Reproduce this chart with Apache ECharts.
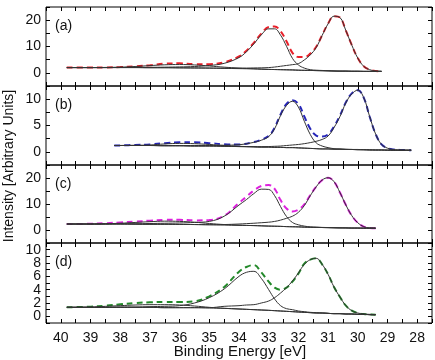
<!DOCTYPE html>
<html>
<head>
<meta charset="utf-8">
<script src="https://cdn.jsdelivr.net/npm/echarts@6/dist/echarts.min.js"></script>
<style>
  html, body { margin: 0; padding: 0; background: #fff; }
  #chart { width: 435px; height: 360px; }
</style>
</head>
<body>
<div id="chart"></div>
<script>
// binding energies (eV) and intensities, one set per panel
const E_A = [39.8, 39, 38.5, 38, 37.5, 37, 36.5, 36, 35.5, 35, 34.5, 34, 33.75, 33.5, 33.25, 33, 32.8, 32.6, 32.4, 32.2, 32, 31.8, 31.6, 31.4, 31.2, 31, 30.8, 30.6, 30.4, 30.2, 30, 29.8, 29.6, 29.4, 29.2];
const BG_A = [2.0, 2.0, 2.0, 2.0, 2.0, 1.95, 1.95, 1.9, 1.85, 1.8, 1.7, 1.6, 1.55, 1.5, 1.4, 1.3, 1.25, 1.2, 1.15, 1.1, 1.0, 0.95, 0.9, 0.85, 0.8, 0.75, 0.7, 0.65, 0.65, 0.6, 0.6, 0.55, 0.55, 0.55, 0.55];
const HUMP_A = [2.0, 2.0, 2.05, 2.15, 2.4, 2.75, 3.05, 3.15, 3.0, 2.6, 2.15, 1.8, 1.65, 1.55, 1.4, 1.3, 1.25, 1.2, 1.15, 1.1, 1.0, 0.95, 0.9, 0.85, 0.8, 0.75, 0.7, 0.65, 0.65, 0.6, 0.6, 0.55, 0.55, 0.55, 0.55];
const P1_A = [2.0, 2.0, 2.0, 2.05, 2.05, 2.1, 2.15, 2.25, 2.4, 2.8, 3.6, 5.8, 8.0, 11.0, 14.4, 16.7, 16.7, 14.3, 10.1, 5.5, 3.0, 1.8, 1.2, 1.0, 0.9, 0.8, 0.7, 0.65, 0.65, 0.6, 0.6, 0.55, 0.55, 0.55, 0.55];
const P2_A = [2.0, 2.0, 2.0, 2.0, 2.0, 1.95, 1.95, 1.9, 1.85, 1.8, 1.75, 1.75, 1.8, 1.85, 1.9, 2.0, 2.2, 2.5, 2.8, 3.1, 3.5, 4.9, 6.8, 9.6, 14.2, 18.6, 21.5, 21.0, 16.0, 10.5, 5.6, 2.5, 1.2, 0.7, 0.6];
const FIT_A = [2.0, 2.0, 2.05, 2.2, 2.5, 2.9, 3.5, 3.6, 3.3, 3.3, 4.0, 6.2, 8.4, 11.4, 14.9, 17.4, 17.6, 15.8, 12.0, 7.6, 6.0, 6.0, 7.3, 9.9, 14.3, 18.7, 21.5, 21.0, 16.0, 10.5, 5.6, 2.5, 1.2, 0.7, 0.6];

const E_B = [38.2, 37.5, 37, 36.5, 36, 35.5, 35, 34.5, 34, 33.5, 33.25, 33, 32.8, 32.6, 32.4, 32.2, 32, 31.8, 31.6, 31.4, 31.2, 31, 30.8, 30.6, 30.4, 30.2, 30, 29.8, 29.6, 29.4, 29.2, 29, 28.8, 28.5, 28.2];
const BG_B = [1.2, 1.2, 1.2, 1.15, 1.15, 1.1, 1.1, 1.05, 1.0, 0.95, 0.9, 0.9, 0.85, 0.85, 0.8, 0.8, 0.75, 0.7, 0.65, 0.6, 0.55, 0.55, 0.5, 0.5, 0.45, 0.45, 0.4, 0.4, 0.35, 0.35, 0.35, 0.3, 0.3, 0.3, 0.3];
const HUMP_B = [1.2, 1.25, 1.3, 1.5, 1.6, 1.55, 1.4, 1.2, 1.05, 0.95, 0.9, 0.9, 0.85, 0.85, 0.8, 0.8, 0.75, 0.7, 0.65, 0.6, 0.55, 0.55, 0.5, 0.5, 0.45, 0.45, 0.4, 0.4, 0.35, 0.35, 0.35, 0.3, 0.3, 0.3, 0.3];
const P1_B = [1.2, 1.2, 1.2, 1.2, 1.2, 1.2, 1.2, 1.25, 1.35, 1.8, 2.2, 2.9, 4.4, 6.9, 8.8, 9.6, 8.5, 5.8, 3.3, 1.7, 1.1, 0.8, 0.6, 0.55, 0.5, 0.45, 0.45, 0.4, 0.4, 0.35, 0.35, 0.35, 0.3, 0.3, 0.3];
const P2_B = [1.2, 1.2, 1.2, 1.15, 1.15, 1.1, 1.1, 1.05, 1.0, 0.98, 0.98, 1.0, 1.05, 1.1, 1.2, 1.3, 1.4, 1.55, 1.75, 2.0, 2.35, 3.0, 4.6, 6.7, 9.3, 11.0, 11.7, 10.3, 6.7, 3.4, 1.4, 0.7, 0.45, 0.35, 0.3];
const FIT_B = [1.2, 1.3, 1.4, 1.65, 1.8, 1.8, 1.65, 1.45, 1.4, 1.85, 2.3, 3.0, 4.6, 7.1, 9.1, 9.8, 9.1, 6.7, 4.4, 3.1, 2.9, 3.3, 4.8, 6.9, 9.4, 11.1, 11.7, 10.3, 6.7, 3.4, 1.4, 0.7, 0.45, 0.35, 0.3];

const E_C = [39.8, 39, 38.5, 38, 37.5, 37, 36.5, 36, 35.5, 35, 34.5, 34, 33.75, 33.5, 33.25, 33, 32.8, 32.6, 32.4, 32.2, 32, 31.8, 31.6, 31.4, 31.2, 31, 30.8, 30.6, 30.4, 30.2, 30, 29.8, 29.6, 29.4];
const BG_C = [2.3, 2.3, 2.3, 2.3, 2.25, 2.2, 2.2, 2.15, 2.1, 2.0, 1.9, 1.8, 1.75, 1.7, 1.6, 1.5, 1.45, 1.4, 1.3, 1.25, 1.2, 1.1, 1.05, 1.0, 0.95, 0.9, 0.85, 0.8, 0.8, 0.75, 0.75, 0.7, 0.7, 0.7];
const HUMP_C = [2.3, 2.3, 2.4, 2.6, 2.9, 3.2, 3.4, 3.3, 3.0, 2.5, 2.1, 1.85, 1.75, 1.7, 1.6, 1.5, 1.45, 1.4, 1.3, 1.25, 1.2, 1.1, 1.05, 1.0, 0.95, 0.9, 0.85, 0.8, 0.8, 0.75, 0.75, 0.7, 0.7, 0.7];
const P1_C = [2.3, 2.3, 2.35, 2.4, 2.4, 2.5, 2.6, 2.7, 2.9, 3.3, 5.3, 9.6, 11.7, 14.0, 15.7, 15.6, 13.2, 9.0, 5.2, 2.9, 2.0, 1.5, 1.2, 1.1, 1.0, 0.95, 0.9, 0.85, 0.8, 0.75, 0.75, 0.7, 0.7, 0.7];
const P2_C = [2.3, 2.3, 2.3, 2.3, 2.25, 2.2, 2.2, 2.15, 2.1, 2.05, 2.1, 2.3, 2.45, 2.6, 2.8, 3.0, 3.3, 3.8, 4.5, 5.3, 6.8, 9.4, 13.2, 16.6, 19.2, 20.1, 18.6, 14.4, 9.6, 5.5, 2.8, 1.3, 0.8, 0.7];
const FIT_C = [2.3, 2.4, 2.6, 2.9, 3.2, 3.6, 3.9, 3.9, 3.7, 3.8, 5.5, 10.4, 12.8, 15.2, 16.9, 17.3, 15.8, 11.5, 8.3, 7.1, 7.8, 9.9, 13.4, 16.7, 19.2, 20.1, 18.6, 14.4, 9.6, 5.5, 2.8, 1.3, 0.8, 0.7];

const E_D = [39.8, 39, 38.5, 38, 37.5, 37, 36.5, 36, 35.5, 35, 34.5, 34, 33.75, 33.5, 33.25, 33, 32.8, 32.6, 32.4, 32.2, 32, 31.8, 31.6, 31.4, 31.2, 31, 30.8, 30.6, 30.4, 30.2, 30, 29.8, 29.6, 29.4];
const BG_D = [1.35, 1.35, 1.35, 1.35, 1.35, 1.35, 1.3, 1.3, 1.3, 1.25, 1.2, 1.1, 1.05, 1.0, 0.95, 0.9, 0.85, 0.8, 0.75, 0.7, 0.65, 0.6, 0.55, 0.5, 0.5, 0.45, 0.4, 0.4, 0.35, 0.35, 0.3, 0.3, 0.25, 0.25];
const HUMP_D = [1.35, 1.4, 1.5, 1.6, 1.7, 1.75, 1.75, 1.7, 1.55, 1.35, 1.2, 1.1, 1.05, 1.0, 0.95, 0.9, 0.85, 0.8, 0.75, 0.7, 0.65, 0.6, 0.55, 0.5, 0.5, 0.45, 0.4, 0.4, 0.35, 0.35, 0.3, 0.3, 0.25, 0.25];
const P1_D = [1.35, 1.35, 1.35, 1.4, 1.4, 1.45, 1.5, 1.6, 2.0, 2.8, 4.1, 6.0, 6.6, 6.75, 5.7, 4.0, 2.6, 1.6, 1.15, 1.0, 0.8, 0.7, 0.6, 0.55, 0.5, 0.45, 0.4, 0.4, 0.35, 0.35, 0.3, 0.3, 0.25, 0.25];
const P2_D = [1.35, 1.35, 1.35, 1.35, 1.35, 1.35, 1.3, 1.3, 1.3, 1.3, 1.5, 1.6, 1.7, 1.75, 2.0, 2.3, 2.8, 3.5, 4.3, 5.3, 6.5, 7.8, 8.5, 8.7, 7.8, 6.3, 4.4, 2.9, 1.6, 0.85, 0.5, 0.35, 0.3, 0.25];
const FIT_D = [1.35, 1.45, 1.6, 1.8, 2.0, 2.1, 2.15, 2.15, 2.25, 3.0, 4.4, 6.7, 7.4, 7.7, 6.6, 5.2, 4.3, 4.0, 4.3, 5.2, 6.4, 7.9, 8.5, 8.7, 7.8, 6.3, 4.4, 2.9, 1.6, 0.85, 0.5, 0.35, 0.3, 0.25];

// y ranges: [min, max, tick step, label step]
const panels = [
  { e: E_A, bg: BG_A, hump: HUMP_A, p1: P1_A, p2: P2_A, fit: FIT_A, color: "#e8202a", y: [-5, 25, 5, 10], tag: "(a)" },
  { e: E_B, bg: BG_B, hump: HUMP_B, p1: P1_B, p2: P2_B, fit: FIT_B, color: "#2626b8", y: [-2.5, 12.5, 2.5, 5], tag: "(b)" },
  { e: E_C, bg: BG_C, hump: HUMP_C, p1: P1_C, p2: P2_C, fit: FIT_C, color: "#dd22dd", y: [-5, 25, 5, 10], tag: "(c)" },
  { e: E_D, bg: BG_D, hump: HUMP_D, p1: P1_D, p2: P2_D, fit: FIT_D, color: "#23892a", y: [-1, 11, 1, 2], tag: "(d)" },
];

const tops = [7, 86, 165, 243];
const heights = [79, 79, 78, 80];
const font = "Liberation Sans";

const pairs = (xs, ys) => xs.map((x, i) => [x, ys[i]]);
const onStep = (v, step) => Math.abs(v / step - Math.round(v / step)) < 1e-6;

const grid = [];
const xAxis = [];
const yAxis = [];
const series = [];
const graphic = [];

panels.forEach((p, i) => {
  grid.push({
    left: 46, right: 3, top: tops[i], height: heights[i],
    show: true, borderColor: "#000", borderWidth: 1, backgroundColor: "transparent",
  });
  const last = i === panels.length - 1;
  ["bottom", "top"].forEach((pos) => {
    xAxis.push({
      type: "value", gridIndex: i, position: pos, inverse: true,
      min: 27.5, max: 40.5, interval: 0.5,
      axisLine: { show: false, onZero: false },
      axisTick: { show: true, inside: true, length: 4, lineStyle: { color: "#000" } },
      splitLine: { show: false },
      axisLabel: {
        show: last && pos === "bottom", margin: 8,
        color: "#111", fontFamily: font, fontSize: 14,
        formatter: (v) => (onStep(v, 1) ? String(v) : ""),
      },
    });
  });
  ["left", "right"].forEach((pos) => {
    yAxis.push({
      type: "value", gridIndex: i, position: pos,
      min: p.y[0], max: p.y[1], interval: p.y[2],
      axisLine: { show: false, onZero: false },
      axisTick: { show: true, inside: true, length: 4, lineStyle: { color: "#000" } },
      splitLine: { show: false },
      axisLabel: {
        show: pos === "left", margin: 5,
        color: "#111", fontFamily: font, fontSize: 14,
        formatter: (v) => (v >= 0 && onStep(v, p.y[3]) ? String(v) : ""),
      },
    });
  });

  const black = (name, ys) => ({
    name, type: "line", xAxisIndex: 2 * i, yAxisIndex: 2 * i,
    data: pairs(p.e, ys), smooth: 0.4, showSymbol: false, silent: true,
    lineStyle: { color: "#333", width: 1 },
  });
  series.push({
    name: "fit", type: "line", xAxisIndex: 2 * i, yAxisIndex: 2 * i,
    data: pairs(p.e, p.fit), smooth: 0.4, showSymbol: false, silent: true,
    lineStyle: { color: p.color, width: 2, type: [6, 4] },
  });
  series.push(black("bg", p.bg), black("hump", p.hump), black("p1", p.p1), black("p2", p.p2));

  graphic.push({
    type: "text", left: 55, top: tops[i] + 12,
    style: { text: p.tag, fill: "#111", font: "14px " + font },
  });
});

graphic.push({
  type: "text", x: 9, y: 166, rotation: Math.PI / 2,
  style: { text: "Intensity [Arbitrary Units]", fill: "#111", font: "14px " + font, align: "center", verticalAlign: "middle" },
});
graphic.push({
  type: "text", x: 240, y: 352,
  style: { text: "Binding Energy [eV]", fill: "#111", font: "15px " + font, align: "center", verticalAlign: "middle" },
});

const myChart = echarts.init(document.getElementById("chart"));
myChart.setOption({
  animation: false,
  backgroundColor: "#fff",
  grid, xAxis, yAxis, series, graphic,
});
</script>
</body>
</html>
